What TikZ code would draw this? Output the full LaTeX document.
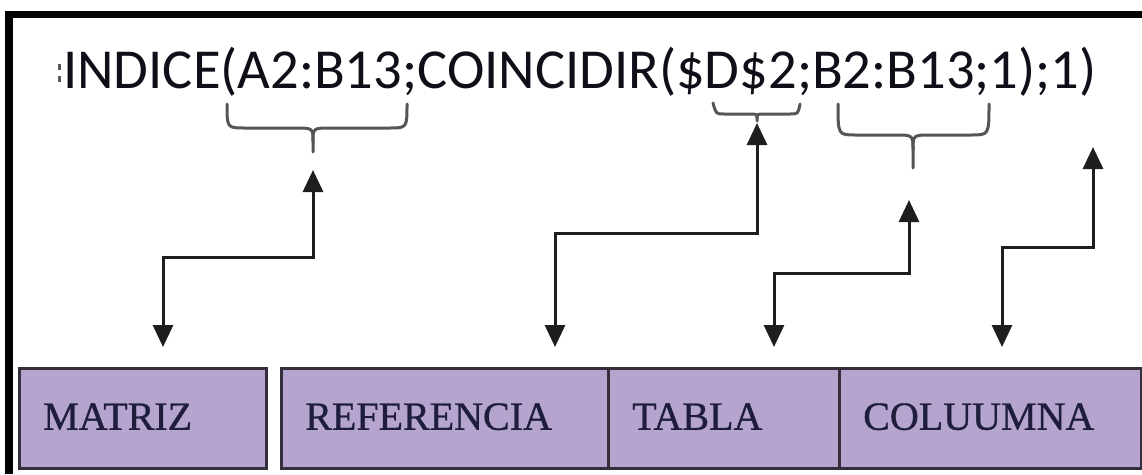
\documentclass[tikz,border=0pt]{standalone}
\usepackage{fontspec}
\setmainfont{Liberation Serif}
\newfontfamily\formulafont{Carlito}
\newfontfamily\cellfont[FakeBold=0.8]{Liberation Serif}
\usetikzlibrary{arrows.meta}

\definecolor{boxfill}{RGB}{181,164,205}
\definecolor{boxline}{RGB}{52,46,60}
\definecolor{labeltext}{RGB}{30,30,60}
\definecolor{bracegray}{RGB}{85,85,85}
\definecolor{linkblack}{RGB}{30,30,30}
\definecolor{formulatext}{RGB}{15,15,25}

\begin{document}
\begin{tikzpicture}[x=1pt,y=-1pt,
  cell/.style={draw=boxline, line width=2.5pt, fill=boxfill,
    minimum height=100pt, inner xsep=24pt, inner ysep=0pt,
    align=left, text height=28pt, text depth=5pt,
    font=\cellfont\fontsize{40}{44}\selectfont, text=labeltext, anchor=north west},
  formula/.style={inner sep=0pt, text=formulatext,
    font=\formulafont\fontsize{56.5}{60}\selectfont},
  brace/.style={draw=bracegray, line width=3pt, line cap=round, line join=round},
  link/.style={draw=linkblack, line width=3pt,
    {Triangle[width=20pt,length=22pt]}-{Triangle[width=20pt,length=22pt]}}
]
\useasboundingbox (0,0) rectangle (1142,474);

% frame: heavy top and left rules
\fill[black] (5,11) rectangle (1142,18);
\fill[black] (5,11) rectangle (13,474);

% formula
\fill[formulatext!70] (58,64) rectangle (60.5,70);
\fill[formulatext!70] (58,76) rectangle (60.5,82);
\node[formula, anchor=base west] (formula) at (63,88)
  {INDICE(A2:B13;COINCIDIR(\$D\$2;B2:B13;1);1)};

% argument braces
\draw[brace] (227,104) .. controls (227,128) .. (245,128) -- (295,128)
  .. controls (313,128) .. (313,142) -- (313,152);
\draw[brace] (407,104) .. controls (407,128) .. (389,128) -- (331,128)
  .. controls (313,128) .. (313,142);

\draw[brace] (713,103) .. controls (716,114) .. (724,114) -- (749,114)
  .. controls (757,114) .. (757,118) -- (757,121);
\draw[brace] (800,104) .. controls (798,114) .. (790,114) -- (765,114)
  .. controls (757,114) .. (757,118);

\draw[brace] (838,104) .. controls (838,135) .. (856,135) -- (895,135)
  .. controls (913,135) .. (913,150) -- (913,168);
\draw[brace] (989,104) .. controls (989,135) .. (971,135) -- (931,135)
  .. controls (913,135) .. (913,150);

% argument cells
\node[cell, minimum width=247pt, text width=199pt] (matriz) at (18,367) {MATRIZ};
\node[cell, minimum width=327pt, text width=279pt] (referencia) at (280,367) {REFERENCIA};
\node[cell, minimum width=231pt, text width=183pt] (tabla) at (607,367) {TABLA};
\node[cell, minimum width=302pt, text width=254pt] (columna) at (838,367) {COLUUMNA};

% connector ends
\coordinate (u1) at (313,170);
\coordinate (d1) at (163,347);
\coordinate (u2) at (757,123);
\coordinate (d2) at (555,347);
\coordinate (u3) at (909,200);
\coordinate (d3) at (774,347);
\coordinate (u4) at (1093,147);
\coordinate (d4) at (1002,347);

% connectors
\draw[link] (u1) -- ++(0,87) -| (d1);
\draw[link] (u2) -- ++(0,110) -| (d2);
\draw[link] (u3) -- ++(0,73) -| (d3);
\draw[link] (u4) -- ++(0,100) -| (d4);
\end{tikzpicture}
\end{document}
